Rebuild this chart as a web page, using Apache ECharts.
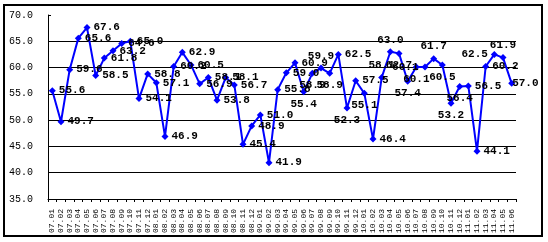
<!DOCTYPE html>
<html>
<head>
<meta charset="utf-8">
<script src="https://cdn.jsdelivr.net/npm/echarts@6/dist/echarts.min.js"></script>
<style>
html,body{margin:0;padding:0;background:#fff;}
#chart{width:548px;height:242px;}
</style>
</head>
<body>
<div id="chart"></div>
<script>
// ---- data ----
const categories = [
  "07.01","07.02","07.03","07.04","07.05","07.06","07.07","07.08","07.09","07.10","07.11","07.12",
  "08.01","08.02","08.03","08.04","08.05","08.06","08.07","08.08","08.09","08.10","08.11","08.12",
  "09.01","09.02","09.03","09.04","09.05","09.06","09.07","09.08","09.09","09.10","09.11","09.12",
  "10.01","10.02","10.03","10.04","10.05","10.06","10.07","10.08","10.09","10.10","10.11","10.12",
  "11.01","11.02","11.03","11.04","11.05","11.06"
];
const values = [
  55.6,49.7,59.6,65.6,67.6,58.5,61.8,63.2,64.6,65.0,54.1,58.8,
  57.1,46.9,60.2,62.9,60.5,56.9,58.1,53.8,58.1,56.7,45.4,48.9,
  51.0,41.9,55.8,59.0,60.9,55.4,58.9,59.9,58.9,62.5,52.3,57.5,
  55.1,46.4,58.1,63.0,62.7,57.4,60.1,60.1,61.7,60.5,53.2,56.4,
  56.5,44.1,60.2,62.5,61.9,57.0
];
const yMin = 35, yMax = 70, yStep = 5;

// label placement overrides (style only)
const labelPlacement = {
  29:'bottom',30:'bottom',31:'top',32:'bottom',34:'bottom',36:'bottom',
  38:'top',39:'top',40:'bottom',41:'bottom',42:'bottom',43:'left',
  44:'top',45:'bottom',46:'bottom',47:'bottom',51:'left',52:'top'
};
const tightRight = {53: true};

const chart = echarts.init(document.getElementById('chart'));
const seriesData = values.map((v, i) => {
  const d = { value: v };
  if (labelPlacement[i]) d.label = { position: labelPlacement[i], distance: 3 };
  else if (tightRight[i]) d.label = { position: 'right', distance: -3 };
  return d;
});

chart.setOption({
  backgroundColor: '#ffffff',
  animation: false,
  grid: { left: 48, right: 32, top: 15, bottom: 43 },
  xAxis: {
    type: 'category',
    data: categories,
    boundaryGap: true,
    axisLine: { lineStyle: { color: '#000', width: 1 } },
    axisTick: { show: true, length: 3, alignWithLabel: false, interval: 0, lineStyle: { color: '#000' } },
    axisLabel: {
      interval: 0, rotate: 90, margin: 10,
      fontFamily: 'Liberation Mono', fontSize: 8, color: '#000'
    },
    splitLine: { show: false }
  },
  yAxis: {
    type: 'value',
    min: yMin, max: yMax, interval: yStep,
    axisLine: { show: true, lineStyle: { color: '#000', width: 1 } },
    axisTick: { show: true, inside: true, length: 3, lineStyle: { color: '#000' } },
    axisLabel: {
      margin: 15, fontFamily: 'Liberation Mono', fontSize: 10, color: '#000',
      formatter: v => v.toFixed(1)
    },
    splitLine: { show: true, showMaxLine: false, lineStyle: { color: '#000', width: 1 } }
  },
  series: [{
    type: 'line',
    data: seriesData,
    symbol: 'diamond',
    symbolSize: 7,
    itemStyle: { color: '#0000FF' },
    lineStyle: { color: '#0000FF', width: 2 },
    label: {
      show: true, position: 'right', distance: 3,
      fontFamily: 'Liberation Mono', fontWeight: 'bold', fontSize: 11, color: '#000',
      formatter: p => Number(p.value).toFixed(1)
    },
    labelLayout: { hideOverlap: false }
  }],
  graphic: [{
    type: 'rect',
    shape: { x: 4, y: 5, width: 538, height: 231 },
    style: { fill: 'none', stroke: '#000', lineWidth: 2 },
    silent: true, z: 100
  }]
});
</script>
</body>
</html>
